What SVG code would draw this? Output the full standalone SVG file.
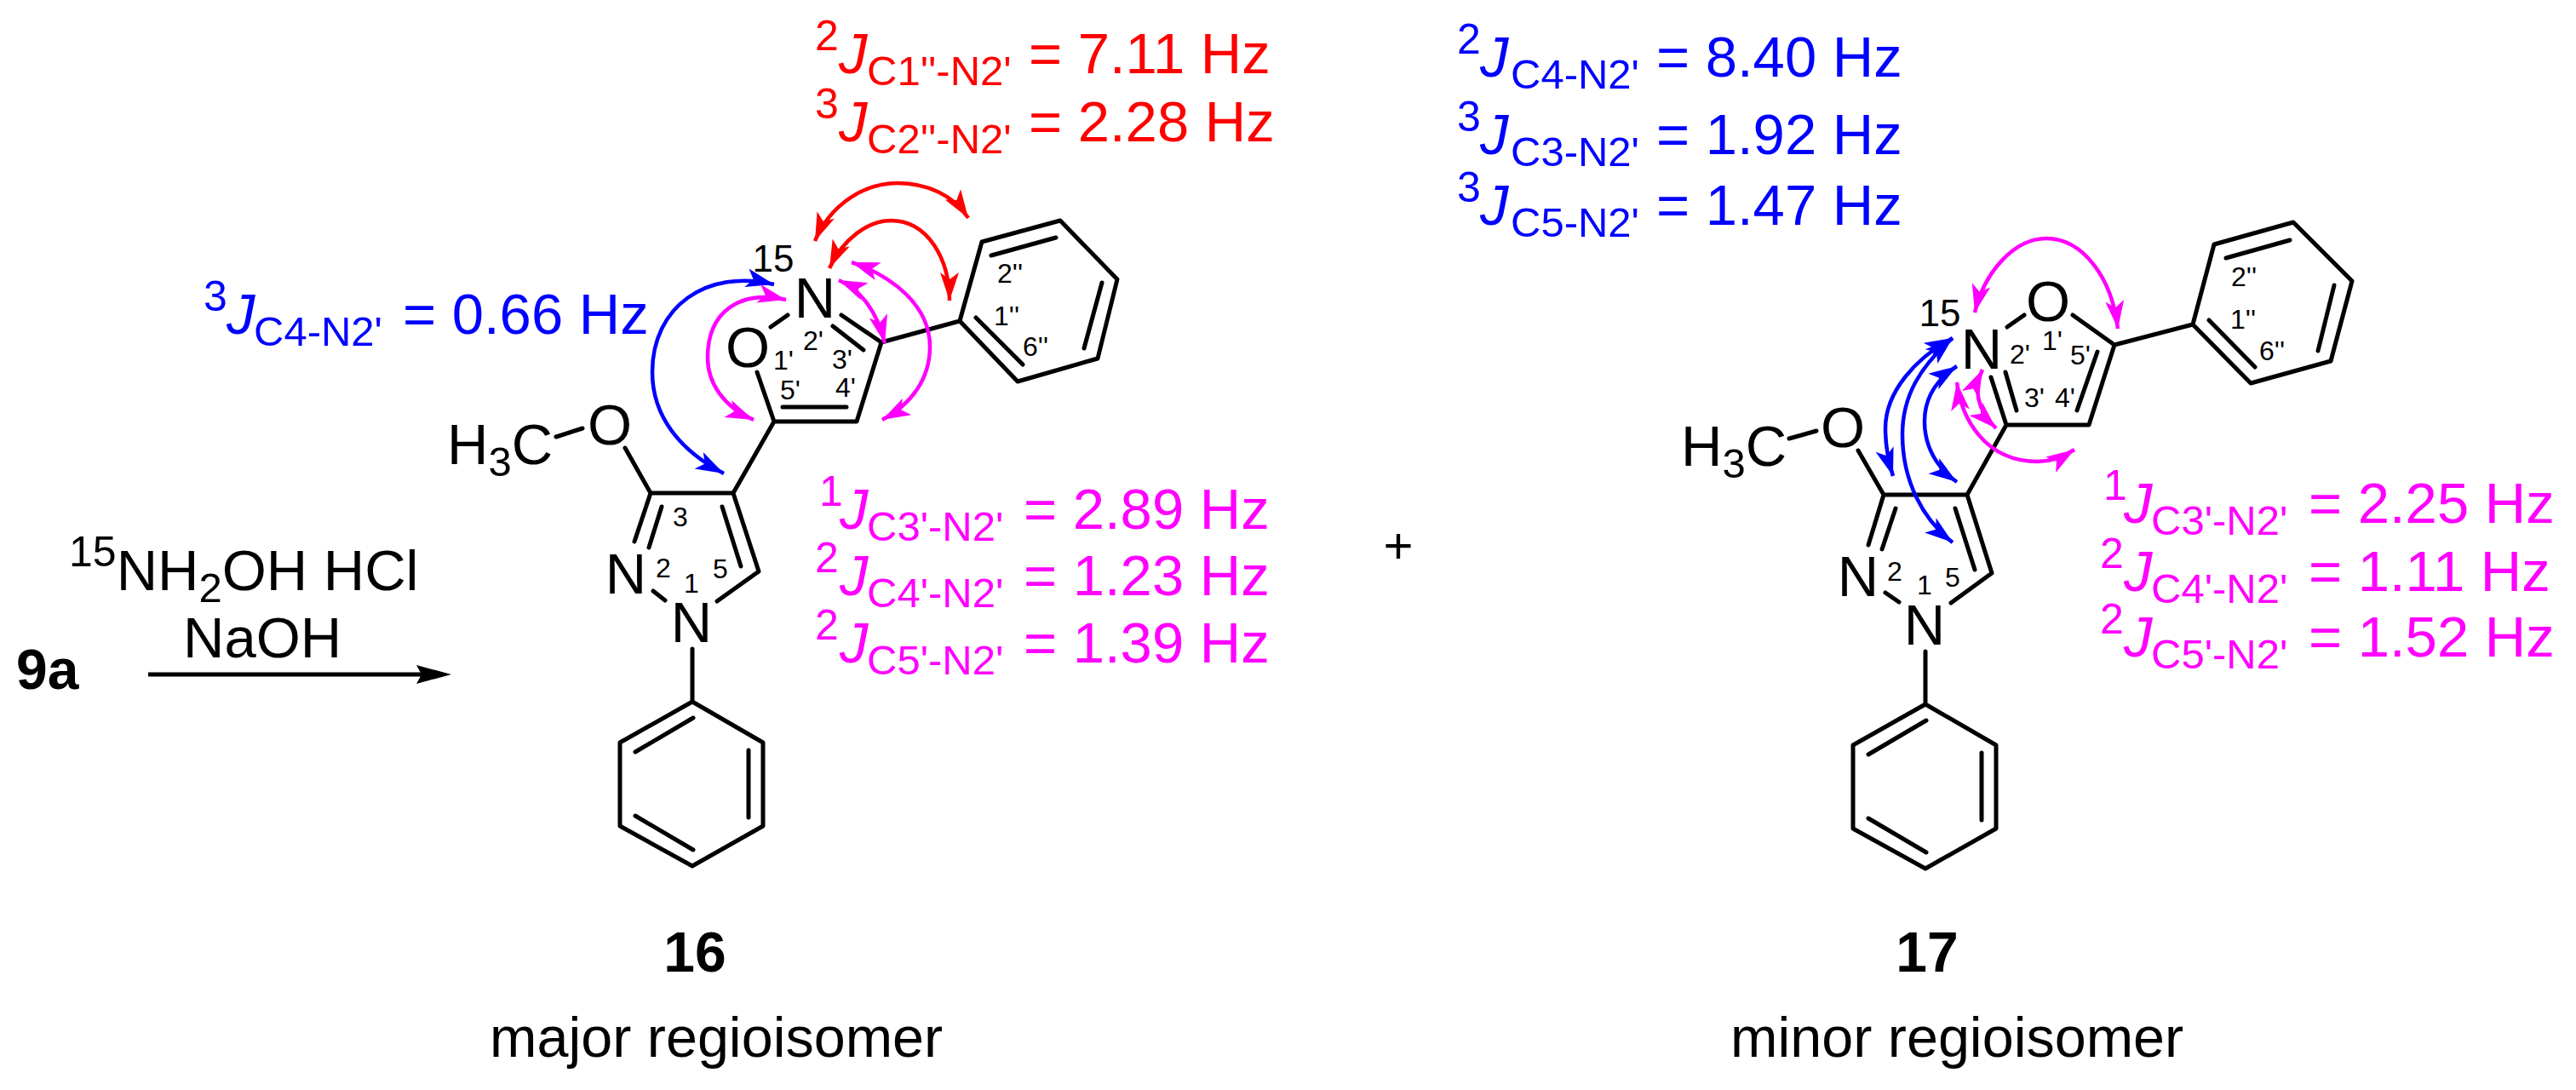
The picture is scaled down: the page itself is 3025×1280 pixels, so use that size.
<svg xmlns="http://www.w3.org/2000/svg" width="3025" height="1280" viewBox="0 0 3025 1280">
<style>
text{font-family:"Liberation Sans",Arial,sans-serif;fill:#000}
.b{stroke:#000;stroke-width:5;fill:none;stroke-linecap:round;stroke-linejoin:round}
.at{font-size:67px;text-anchor:middle}
.n{font-size:32px;text-anchor:middle}
.f{font-size:44px;text-anchor:middle}
.t{font-size:67px}
.s{font-size:50px}
.i{font-size:67px;font-style:italic}
.u{font-size:49px}
.r text,.r{fill:#f00}
.bl text,.bl{fill:#00f}
.m text,.m{fill:#f0f}
.ar{fill:none;stroke-width:4.5}
.ar.cr{stroke:#f00}.ar.cb{stroke:#00f}.ar.cm{stroke:#f0f}
</style>
<defs>
<marker id="hr" markerUnits="userSpaceOnUse" markerWidth="50" markerHeight="40" viewBox="-40 -20 50 40" refX="0" refY="0" orient="auto-start-reverse"><path d="M0,0L-33,-11L-25,0L-33,11z" fill="#f00"/></marker>
<marker id="hb" markerUnits="userSpaceOnUse" markerWidth="50" markerHeight="40" viewBox="-40 -20 50 40" refX="0" refY="0" orient="auto-start-reverse"><path d="M0,0L-33,-11L-25,0L-33,11z" fill="#00f"/></marker>
<marker id="hm" markerUnits="userSpaceOnUse" markerWidth="50" markerHeight="40" viewBox="-40 -20 50 40" refX="0" refY="0" orient="auto-start-reverse"><path d="M0,0L-33,-11L-25,0L-33,11z" fill="#f0f"/></marker>
<marker id="hk" markerUnits="userSpaceOnUse" markerWidth="50" markerHeight="40" viewBox="-45 -20 50 40" refX="0" refY="0" orient="auto"><path d="M0,0L-41,-11L-35,0L-41,11z" fill="#000"/></marker>
</defs>
<rect width="3025" height="1280" fill="#fff"/>

<g id="compound-16">
<path class="b" d="M813,762V824L896,872V970L813,1017L728,970V872L813,824M879,881V960M746,883L814,843M746,958L814,998"/>
<path class="b" d="M767,694L781,705M842,706L891,671L861,579H764L745,636M777,595L762,643M848,595L870,665M764,579L734,526M684,503L653,513M861,579L909,495H1006L1035,402L988,370M1014,411L978,383M925,370L905,384M889,437L909,495M919,478H994M1035,402L1127,377L1153,284L1245,259L1312,328L1289,421L1195,448L1127,377M1164,300L1240,279M1294,332L1273,409M1201,428L1146,373"/>
<text class="at" x="957" y="373">N</text><text class="at" x="878" y="431">O</text><text class="at" x="735" y="697">N</text><text class="at" x="812" y="754">N</text><text class="at" x="716" y="522">O</text>
<text class="t" x="525" y="545">H<tspan class="u" dy="14">3</tspan><tspan dy="-14">C</tspan></text>
<text class="f" x="908" y="319">15</text>
<text class="n" x="955" y="411">2'</text><text class="n" x="920" y="434">1'</text><text class="n" x="989" y="433">3'</text><text class="n" x="928" y="469">5'</text><text class="n" x="993" y="466">4'</text>
<text class="n" x="1186" y="332">2''</text><text class="n" x="1182" y="382">1''</text><text class="n" x="1216" y="418">6''</text>
<text class="n" x="799" y="618">3</text><text class="n" x="779" y="678">2</text><text class="n" x="812" y="696">1</text><text class="n" x="846" y="679">5</text>
<text x="816" y="1141" font-size="66" font-weight="bold" text-anchor="middle">16</text>
<text x="575" y="1241" font-size="66.5">major regioisomer</text>
</g>

<g id="compound-17">
<path class="b" d="M2261,765V827L2344,875V973L2261,1020L2176,973V875L2261,827M2327,884V963M2194,886L2262,846M2194,961L2262,1001"/>
<path class="b" d="M2214,696L2230,707M2291,708L2339,673L2310,581H2212L2194,640M2226,597L2210,645M2296,597L2319,669M2212,581L2182,529M2133,506L2101,515M2310,581L2356,499H2453L2483,405L2434,370M2357,384L2377,370M2463,413L2439,482M2356,499L2338,443M2368,482L2355,437M2483,405L2575,381L2600,287L2693,261L2762,330L2737,424L2643,450L2575,381M2614,303L2689,282M2741,335L2722,412M2648,431L2594,376"/>
<text class="at" x="2327" y="433">N</text><text class="at" x="2405" y="377">O</text><text class="at" x="2182" y="700">N</text><text class="at" x="2260" y="757">N</text><text class="at" x="2164" y="525">O</text>
<text class="t" x="1974" y="547">H<tspan class="u" dy="14">3</tspan><tspan dy="-14">C</tspan></text>
<text class="f" x="2278" y="383">15</text>
<text class="n" x="2372" y="427">2'</text><text class="n" x="2410" y="411">1'</text><text class="n" x="2443" y="428">5'</text><text class="n" x="2389" y="478">3'</text><text class="n" x="2425" y="478">4'</text>
<text class="n" x="2635" y="336">2''</text><text class="n" x="2634" y="386">1''</text><text class="n" x="2668" y="423">6''</text>
<text class="n" x="2225" y="682">2</text><text class="n" x="2260" y="698">1</text><text class="n" x="2293" y="689">5</text>
<text x="2263" y="1141" font-size="66" font-weight="bold" text-anchor="middle">17</text>
<text x="2032" y="1241" font-size="66.5">minor regioisomer</text>
</g>

<g id="reagents">
<text x="19" y="809" font-size="66" font-weight="bold">9a</text>
<text class="t" x="81" y="693"><tspan class="s" dy="-28">15</tspan><tspan dy="28">NH</tspan><tspan class="u" dy="14">2</tspan><tspan dy="-14">OH HCl</tspan></text>
<text class="t" x="215" y="772">NaOH</text>
<text x="1642" y="661" font-size="60" text-anchor="middle">+</text>
</g>

<g id="labels">
<g class="r">
<text><tspan class="s" x="957" y="59">2</tspan><tspan class="i" x="985" y="86">J</tspan><tspan class="u" x="1018" y="100">C1''-N2'</tspan><tspan class="t" x="1208" y="86">= 7.11 Hz</tspan></text>
<text><tspan class="s" x="957" y="139">3</tspan><tspan class="i" x="985" y="166">J</tspan><tspan class="u" x="1018" y="180">C2''-N2'</tspan><tspan class="t" x="1208" y="166">= 2.28 Hz</tspan></text>
</g>
<g class="bl">
<text><tspan class="s" x="1711" y="63">2</tspan><tspan class="i" x="1738" y="90">J</tspan><tspan class="u" x="1774" y="104">C4-N2'</tspan><tspan class="t" x="1945" y="90">= 8.40 Hz</tspan></text>
<text><tspan class="s" x="1711" y="154">3</tspan><tspan class="i" x="1738" y="181">J</tspan><tspan class="u" x="1774" y="195">C3-N2'</tspan><tspan class="t" x="1945" y="181">= 1.92 Hz</tspan></text>
<text><tspan class="s" x="1711" y="237">3</tspan><tspan class="i" x="1738" y="264">J</tspan><tspan class="u" x="1774" y="278">C5-N2'</tspan><tspan class="t" x="1945" y="264">= 1.47 Hz</tspan></text>
<text><tspan class="s" x="239" y="365">3</tspan><tspan class="i" x="266" y="392">J</tspan><tspan class="u" x="298" y="406">C4-N2'</tspan><tspan class="t" x="473" y="392">= 0.66 Hz</tspan></text>
</g>
<g class="m">
<text><tspan class="s" x="962" y="594">1</tspan><tspan class="i" x="986" y="621">J</tspan><tspan class="u" x="1018" y="635">C3'-N2'</tspan><tspan class="t" x="1202" y="621">= 2.89 Hz</tspan></text>
<text><tspan class="s" x="957" y="672">2</tspan><tspan class="i" x="986" y="699">J</tspan><tspan class="u" x="1018" y="713">C4'-N2'</tspan><tspan class="t" x="1202" y="699">= 1.23 Hz</tspan></text>
<text><tspan class="s" x="957" y="751">2</tspan><tspan class="i" x="986" y="778">J</tspan><tspan class="u" x="1018" y="792">C5'-N2'</tspan><tspan class="t" x="1202" y="778">= 1.39 Hz</tspan></text>
<text><tspan class="s" x="2470" y="587">1</tspan><tspan class="i" x="2494" y="614">J</tspan><tspan class="u" x="2526" y="628">C3'-N2'</tspan><tspan class="t" x="2711" y="614">= 2.25 Hz</tspan></text>
<text><tspan class="s" x="2466" y="667">2</tspan><tspan class="i" x="2494" y="694">J</tspan><tspan class="u" x="2526" y="708">C4'-N2'</tspan><tspan class="t" x="2711" y="694">= 1.11 Hz</tspan></text>
<text><tspan class="s" x="2466" y="744">2</tspan><tspan class="i" x="2494" y="771">J</tspan><tspan class="u" x="2526" y="785">C5'-N2'</tspan><tspan class="t" x="2711" y="771">= 1.52 Hz</tspan></text>
</g>
</g>

<g id="connectors">
<path d="M174,792H497" fill="none" stroke="#000" stroke-width="5"/>
<path d="M497,792H530" fill="none" stroke="none" marker-end="url(#hk)"/>
<path class="ar cr" marker-start="url(#hr)" marker-end="url(#hr)" d="M957,283C975,240 1015,215 1054,215C1090,215 1120,230 1137,256"/>
<path class="ar cr" marker-start="url(#hr)" marker-end="url(#hr)" d="M974,315C990,280 1020,259 1046,259C1090,259 1115,305 1115,353"/>
<path class="ar cb" marker-start="url(#hb)" marker-end="url(#hb)" d="M909,334C830,315 766,360 766,437C766,490 800,530 850,556"/>
<path class="ar cm" marker-start="url(#hm)" marker-end="url(#hm)" d="M923,352C870,340 831,365 831,420C831,450 850,478 885,493"/>
<path class="ar cm" marker-start="url(#hm)" marker-end="url(#hm)" d="M985,329C1010,340 1030,365 1039,403"/>
<path class="ar cm" marker-start="url(#hm)" marker-end="url(#hm)" d="M1000,308C1050,325 1092,360 1092,407C1092,445 1070,475 1036,493"/>
<path class="ar cm" marker-start="url(#hm)" marker-end="url(#hm)" d="M2319,367C2330,320 2365,280 2403,280C2445,280 2480,325 2487,386"/>
<path class="ar cb" marker-start="url(#hb)" marker-end="url(#hb)" d="M2293,397C2250,420 2214,460 2214,503C2214,525 2217,540 2223,559"/>
<path class="ar cb" marker-start="url(#hb)" marker-end="url(#hb)" d="M2293,397C2255,430 2234,465 2234,510C2234,565 2258,610 2293,637"/>
<path class="ar cb" marker-start="url(#hb)" marker-end="url(#hb)" d="M2298,430C2275,445 2260,465 2260,495C2260,525 2275,550 2298,566"/>
<path class="ar cm" marker-start="url(#hm)" marker-end="url(#hm)" d="M2328,434C2318,455 2320,480 2344,503"/>
<path class="ar cm" marker-start="url(#hm)" marker-end="url(#hm)" d="M2298,449C2303,490 2330,542 2393,542C2408,542 2422,537 2436,528"/>
</g>
</svg>
